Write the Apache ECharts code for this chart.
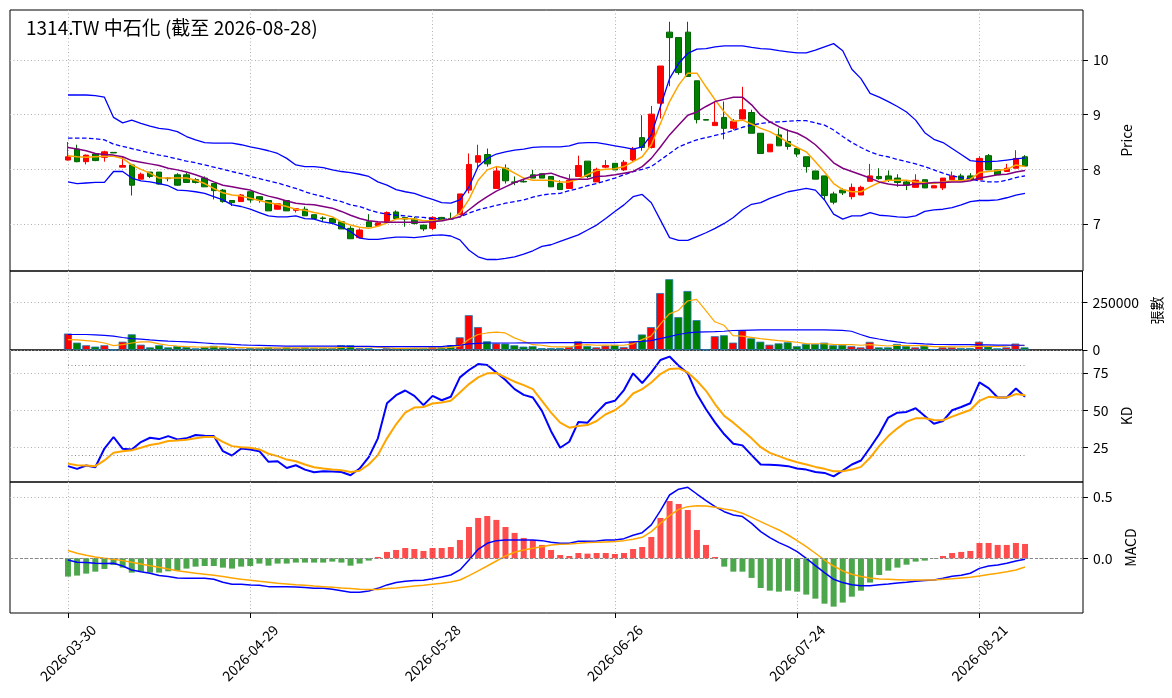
<!DOCTYPE html>
<html>
<head>
<meta charset="utf-8">
<title>1314.TW 中石化</title>
<script src="https://cdn.jsdelivr.net/npm/echarts@6/dist/echarts.min.js"></script>
<style>
  html, body { margin: 0; padding: 0; background: #fff; }
  #chart { width: 1172px; height: 698px; }
</style>
</head>
<body>
<div id="chart"></div>
<script>
// trading days: weekdays 2026-03-30 .. 2026-08-28 minus TWSE holidays
var firstDay = '2026-03-30';
var lastDay = '2026-08-28';
var holidays = ['2026-04-03', '2026-04-06', '2026-05-01', '2026-06-19'];

// candles
var opens = [8.17,8.37,8.14,8.28,8.22,8.31,8.04,8.08,7.82,7.95, 7.95,7.84,7.90,7.90,7.81,7.84,7.74,7.62,7.43,7.41,
  7.59,7.50,7.43,7.27,7.43,7.25,7.27,7.17,7.11,7.10, 7.04,6.92,6.75,7.04,6.97,7.04,7.22,7.12,7.09,6.98,
  6.92,7.12,7.10,7.17,7.62,8.13,8.27,7.65,8.02,7.77, 7.78,7.90,7.92,7.87,7.74,7.65,7.87,8.15,7.77,8.04,
  8.11,7.99,8.17,8.58,8.40,9.21,10.51,10.41,10.51,9.62, 8.91,8.80,8.95,8.75,8.92,9.04,8.66,8.32,8.63,8.51,
  8.38,8.23,7.97,7.88,7.55,7.62,7.50,7.53,7.78,7.87, 7.88,7.84,7.77,7.67,7.81,7.66,7.66,7.81,7.88,7.88,
  7.81,8.25,7.99,7.96,8.02,8.23];
var closes = [8.23,8.14,8.26,8.16,8.32,8.30,8.07,7.71,7.91,7.87, 7.73,7.83,7.71,7.76,7.76,7.68,7.61,7.41,7.39,7.53,
  7.44,7.44,7.24,7.37,7.24,7.28,7.15,7.10,7.10,7.02, 6.91,6.73,6.89,6.95,7.02,7.21,7.10,7.09,7.01,6.91,
  7.12,7.06,7.09,7.55,8.09,8.25,8.10,7.97,7.79,7.76, 7.77,7.84,7.84,7.68,7.63,7.80,8.07,7.87,8.00,8.07,
  7.99,8.13,8.37,8.40,9.01,9.89,10.41,9.77,9.70,8.91, 8.90,8.86,8.75,8.88,9.09,8.66,8.29,8.46,8.43,8.42,
  8.28,8.05,7.82,7.52,7.40,7.57,7.67,7.67,7.88,7.83, 7.80,7.76,7.71,7.80,7.66,7.70,7.84,7.88,7.81,7.81,
  8.20,7.99,7.90,8.02,8.20,8.06];
var lows = [8.16,8.13,8.09,8.15,8.14,8.30,8.04,7.52,7.82,7.84, 7.72,7.78,7.70,7.75,7.74,7.68,7.45,7.39,7.33,7.41,
  7.39,7.39,7.24,7.27,7.24,7.21,7.15,7.10,7.04,7.02, 6.91,6.73,6.75,6.95,6.97,7.04,7.08,6.95,6.99,6.87,
  6.89,7.06,7.08,7.17,7.56,8.02,8.05,7.65,7.74,7.71, 7.76,7.84,7.84,7.68,7.63,7.65,7.87,7.84,7.77,8.02,
  7.99,7.97,8.14,8.34,8.38,8.93,9.52,9.73,9.70,8.84, 8.90,8.80,8.55,8.72,8.90,8.66,8.29,8.32,8.43,8.36,
  8.23,7.94,7.82,7.44,7.36,7.53,7.45,7.53,7.78,7.81, 7.77,7.68,7.62,7.67,7.66,7.66,7.62,7.81,7.80,7.80,
  7.81,7.99,7.90,7.96,8.02,8.06];
var highs = [8.50,8.45,8.27,8.30,8.34,8.31,8.23,8.08,7.94,7.95, 7.95,7.86,7.93,7.94,7.84,7.87,7.74,7.64,7.43,7.55,
  7.59,7.50,7.43,7.37,7.43,7.28,7.32,7.17,7.14,7.10, 7.04,6.96,6.92,7.18,7.02,7.23,7.25,7.12,7.13,6.98,
  7.14,7.13,7.21,7.55,8.29,8.45,8.38,8.05,8.09,7.87, 7.82,7.99,7.92,7.87,7.80,7.91,8.25,8.15,8.03,8.17,
  8.11,8.17,8.41,8.99,9.16,9.89,10.70,10.42,10.70,9.62, 8.91,9.24,9.24,8.92,9.51,9.09,8.66,8.46,8.75,8.73,
  8.38,8.23,7.97,7.88,7.59,7.65,7.74,7.70,8.10,8.02, 7.98,7.91,7.79,7.91,7.81,7.70,7.84,7.96,7.92,7.93,
  8.24,8.28,7.99,8.10,8.35,8.26];

// price overlays
var ma5 = [8.25,8.23,8.22,8.23,8.24,8.24,8.20,8.08,8.00,7.93, 7.84,7.84,7.84,7.84,7.80,7.74,7.65,7.57,7.53,7.51,
  7.47,7.43,7.39,7.36,7.32,7.27,7.25,7.21,7.18,7.13, 7.04,6.98,6.94,6.92,6.96,7.02,7.09,7.10,7.09,7.06,
  7.06,7.07,7.09,7.20,7.45,7.80,7.99,8.05,8.02,7.93, 7.84,7.80,7.80,7.80,7.77,7.77,7.82,7.90,7.98,8.00,
  8.01,8.05,8.14,8.23,8.45,8.84,9.24,9.54,9.76,9.76, 9.51,9.27,9.05,8.88,8.90,8.83,8.75,8.69,8.60,8.49,
  8.40,8.32,8.14,7.95,7.74,7.63,7.59,7.59,7.68,7.76, 7.80,7.80,7.80,7.77,7.76,7.74,7.77,7.79,7.79,7.82,
  7.94,7.96,7.98,8.00,8.08,8.05];
var ma10 = [8.40,8.37,8.34,8.29,8.27,8.26,8.23,8.16,8.13,8.10, 8.07,8.02,7.99,7.95,7.90,7.84,7.77,7.71,7.68,7.65,
  7.62,7.56,7.51,7.47,7.42,7.38,7.36,7.35,7.32,7.29, 7.23,7.16,7.10,7.06,7.04,7.03,7.03,7.03,7.03,7.03,
  7.04,7.06,7.09,7.13,7.26,7.39,7.50,7.60,7.68,7.76, 7.82,7.88,7.91,7.93,7.87,7.82,7.82,7.82,7.87,7.88,
  7.90,7.93,7.96,8.05,8.20,8.41,8.63,8.81,8.99,9.05, 9.15,9.24,9.28,9.32,9.32,9.18,8.99,8.87,8.78,8.71,
  8.66,8.57,8.45,8.29,8.12,8.02,7.96,7.90,7.84,7.77, 7.73,7.71,7.71,7.73,7.74,7.76,7.76,7.77,7.77,7.79,
  7.84,7.87,7.90,7.91,7.95,7.98];
var bbUpper = [9.36,9.36,9.36,9.35,9.32,8.95,8.85,8.90,8.84,8.79, 8.75,8.73,8.69,8.60,8.54,8.49,8.48,8.48,8.48,8.45,
  8.41,8.38,8.34,8.29,8.20,8.08,8.05,8.05,8.03,7.99, 7.96,7.94,7.91,7.87,7.77,7.71,7.63,7.59,7.56,7.50,
  7.45,7.39,7.38,7.44,7.68,8.05,8.20,8.28,8.32,8.35, 8.37,8.40,8.41,8.41,8.41,8.43,8.48,8.49,8.49,8.46,
  8.43,8.40,8.37,8.41,8.63,9.15,9.66,9.94,10.12,10.20, 10.21,10.24,10.26,10.26,10.26,10.23,10.21,10.20,10.17,10.15,
  10.13,10.13,10.18,10.24,10.30,10.17,9.83,9.66,9.39,9.32, 9.24,9.15,9.05,8.90,8.67,8.55,8.49,8.38,8.27,8.16,
  8.14,8.14,8.15,8.17,8.19,8.21];
var bbMid = [8.57,8.57,8.57,8.56,8.54,8.46,8.42,8.38,8.34,8.30, 8.26,8.23,8.19,8.15,8.12,8.08,8.04,8.00,7.96,7.92,
  7.87,7.83,7.79,7.75,7.70,7.65,7.59,7.54,7.50,7.45, 7.41,7.35,7.32,7.26,7.21,7.18,7.16,7.15,7.13,7.12,
  7.10,7.09,7.09,7.13,7.20,7.26,7.30,7.34,7.38,7.41, 7.44,7.49,7.53,7.55,7.56,7.61,7.65,7.70,7.74,7.79,
  7.84,7.90,7.96,8.00,8.05,8.17,8.29,8.41,8.48,8.54, 8.58,8.62,8.66,8.71,8.77,8.81,8.84,8.86,8.87,8.88,
  8.89,8.89,8.85,8.81,8.72,8.60,8.49,8.40,8.32,8.26, 8.23,8.18,8.14,8.10,8.05,7.99,7.93,7.88,7.85,7.82,
  7.79,7.77,7.77,7.80,7.85,7.88];
var bbLower = [7.77,7.74,7.75,7.76,7.76,7.96,7.96,7.84,7.79,7.77, 7.74,7.70,7.62,7.61,7.59,7.56,7.50,7.44,7.35,7.32,
  7.27,7.21,7.15,7.13,7.13,7.15,7.10,7.09,7.04,7.01, 6.95,6.86,6.74,6.72,6.72,6.74,6.76,6.76,6.75,6.77,
  6.79,6.80,6.78,6.71,6.52,6.40,6.35,6.35,6.37,6.40, 6.45,6.51,6.59,6.62,6.68,6.74,6.80,6.89,6.98,7.10,
  7.23,7.35,7.50,7.54,7.39,7.07,6.75,6.70,6.70,6.77, 6.84,6.92,7.01,7.12,7.26,7.36,7.39,7.47,7.53,7.59,
  7.62,7.65,7.62,7.44,7.18,7.09,7.15,7.15,7.21,7.16, 7.15,7.13,7.12,7.15,7.23,7.26,7.27,7.30,7.35,7.41,
  7.43,7.43,7.44,7.48,7.53,7.56];

// volume (張)
var volumes = [87000,39000,25000,18000,25000,1500,44000,83000,28000,14000, 25000,14000,20000,16000,9000,16000,22000,14000,9000,7000,
  10000,10000,14000,9000,14000,10000,14000,10000,10000,10000, 25000,25000,10000,10000,5000,10000,10000,10000,9000,10000,
  14000,14000,23000,67000,184000,121000,46000,35000,34000,25000, 18000,20000,10000,10000,10000,16000,46000,21000,14000,23000,
  27000,16000,46000,82000,121000,301000,374000,174000,312000,158000, 2000,73000,78000,39000,103000,62000,44000,28000,35000,41000,
  20000,32000,32000,39000,25000,27000,20000,14000,43000,14000, 14000,32000,21000,14000,23000,5000,14000,14000,10000,10000,
  44000,18000,9000,14000,34000,14000];
var volMa5 = [55000,54000,50000,46000,37000,23000,28000,37000,43000,43000, 32000,25000,21000,18000,16000,15000,17000,16000,14000,13000,
  12000,11000,11000,11000,12000,11000,12000,11000,11000,11000, 14000,16000,16000,16000,15000,12000,9000,9000,10000,10000,
  11000,11000,14000,20000,55000,82000,90000,94000,90000,64000, 46000,28000,25000,18000,16000,16000,25000,28000,25000,26000,
  25000,25000,32000,55000,73000,135000,191000,209000,259000,268000, 209000,149000,131000,76000,73000,67000,60000,55000,50000,46000,
  41000,34000,33000,33000,30000,28000,28000,25000,28000,25000, 21000,25000,23000,23000,23000,18000,18000,16000,16000,18000,
  21000,19000,19000,21000,25000,23000];
var volMa20 = [82000,82000,82000,80000,77000,73000,66000,60000,57000,53000, 50000,47000,45000,43000,40000,37000,34000,32000,30000,27000,
  25000,24000,23000,22000,21000,21000,20000,20000,20000,20000, 20000,19000,19000,19000,18000,18000,18000,18000,18000,18000,
  18000,18000,23000,25000,32000,35000,37000,37000,37000,37000, 38000,38000,38000,39000,39000,39000,39000,39000,39000,39000,
  39000,41000,43000,46000,50000,60000,71000,82000,90000,94000, 96000,97000,99000,103000,104000,105000,106000,106000,106000,106000,
  106000,106000,106000,106000,105000,104000,99000,82000,67000,58000, 50000,43000,37000,35000,32000,30000,29000,28000,28000,28000,
  27000,27000,26000,26000,25000,25000];

// KD
var kLine = [12.6,10.8,13.0,11.9,24.4,32.1,24.2,23.8,28.7,31.6, 30.7,32.7,30.5,31.2,33.4,33.0,32.7,22.6,19.7,24.4,
  23.8,22.6,15.5,15.9,11.4,13.2,10.3,8.5,9.2,9.0, 8.7,6.5,11.0,18.6,31.2,54.7,60.1,63.2,59.6,53.4,
  59.6,56.7,59.0,72.0,76.9,80.9,80.3,75.3,70.2,64.1, 60.3,58.5,49.6,36.0,24.9,28.9,42.2,41.7,48.4,54.7,
  56.3,63.5,74.7,68.2,75.3,83.6,85.9,79.8,74.7,60.8, 50.7,41.7,33.9,27.6,26.5,20.0,13.7,13.5,13.2,12.6,
  11.0,10.3,8.7,8.1,5.8,9.6,13.7,16.4,24.9,33.9, 45.1,48.4,48.9,51.3,46.2,41.0,42.8,50.0,52.2,54.7,
  68.6,64.8,58.5,58.5,64.6,59.0];
var dLine = [14.3,13.2,13.0,12.6,16.4,21.5,22.6,23.3,24.9,26.7, 27.8,29.4,29.8,30.3,31.2,32.1,32.1,28.9,26.0,25.3,
  24.9,23.8,20.9,19.3,17.0,15.9,13.7,11.9,11.0,10.3, 9.9,8.7,9.6,13.7,20.0,31.2,40.6,48.4,51.8,52.2,
  54.5,55.2,56.3,61.9,67.5,72.0,74.7,74.9,72.0,69.1, 66.8,64.1,56.3,48.4,41.7,38.3,39.5,40.1,42.8,47.3,
  50.0,54.5,61.2,64.1,68.6,74.2,77.6,78.0,75.3,69.7, 63.0,54.0,46.2,41.7,36.5,31.2,25.3,21.5,19.3,17.0,
  15.2,13.7,12.1,10.8,9.2,9.2,10.3,12.1,18.2,26.0, 32.7,37.9,42.4,44.6,44.6,43.5,43.3,45.7,48.0,50.2,
  56.3,59.0,58.5,58.5,60.8,60.1];

// MACD
var macdHist = [-0.149,-0.141,-0.125,-0.109,-0.087,-0.054,-0.076,-0.117,-0.109,-0.117, -0.117,-0.106,-0.101,-0.084,-0.068,-0.063,-0.063,-0.076,-0.084,-0.068,
  -0.063,-0.043,-0.060,-0.043,-0.043,-0.035,-0.035,-0.035,-0.035,-0.027, -0.035,-0.060,-0.043,-0.019,0.011,0.052,0.068,0.084,0.076,0.060,
  0.084,0.084,0.092,0.149,0.255,0.329,0.345,0.313,0.255,0.207, 0.166,0.149,0.109,0.068,0.027,0.019,0.043,0.038,0.043,0.043,
  0.035,0.043,0.076,0.092,0.174,0.329,0.467,0.443,0.394,0.231, 0.109,0.011,-0.068,-0.109,-0.109,-0.160,-0.242,-0.264,-0.272,-0.264,
  -0.272,-0.296,-0.329,-0.370,-0.394,-0.361,-0.313,-0.264,-0.198,-0.136, -0.101,-0.076,-0.052,-0.027,-0.019,-0.003,0.019,0.043,0.052,0.060,
  0.125,0.125,0.109,0.109,0.125,0.117];
var macdDif = [-0.014,-0.033,-0.035,-0.041,-0.043,-0.041,-0.063,-0.095,-0.109,-0.122, -0.141,-0.149,-0.160,-0.163,-0.163,-0.163,-0.171,-0.196,-0.212,-0.212,
  -0.217,-0.220,-0.231,-0.231,-0.231,-0.234,-0.239,-0.245,-0.245,-0.253, -0.264,-0.277,-0.277,-0.266,-0.245,-0.217,-0.198,-0.188,-0.182,-0.179,
  -0.166,-0.152,-0.136,-0.095,-0.014,0.073,0.122,0.144,0.149,0.149, 0.149,0.149,0.144,0.130,0.122,0.122,0.139,0.139,0.141,0.149,
  0.149,0.160,0.188,0.209,0.272,0.389,0.516,0.563,0.579,0.524, 0.470,0.421,0.380,0.353,0.340,0.285,0.217,0.168,0.128,0.095,
  0.054,0.000,-0.060,-0.117,-0.171,-0.198,-0.215,-0.223,-0.223,-0.215, -0.209,-0.201,-0.196,-0.188,-0.182,-0.177,-0.163,-0.147,-0.139,-0.122,
  -0.082,-0.063,-0.054,-0.041,-0.022,-0.008];
var macdDea = [0.063,0.041,0.024,0.011,0.000,-0.008,-0.019,-0.033,-0.046,-0.060, -0.073,-0.087,-0.101,-0.111,-0.122,-0.130,-0.139,-0.149,-0.160,-0.171,
  -0.179,-0.188,-0.196,-0.204,-0.209,-0.215,-0.220,-0.226,-0.231,-0.236, -0.242,-0.247,-0.253,-0.255,-0.255,-0.247,-0.242,-0.234,-0.226,-0.220,
  -0.212,-0.204,-0.193,-0.177,-0.141,-0.103,-0.063,-0.022,0.019,0.049, 0.068,0.082,0.095,0.109,0.114,0.117,0.122,0.128,0.130,0.133,
  0.136,0.144,0.155,0.171,0.217,0.285,0.348,0.399,0.421,0.429, 0.427,0.416,0.402,0.389,0.367,0.334,0.299,0.264,0.231,0.190,
  0.144,0.095,0.041,-0.014,-0.063,-0.103,-0.130,-0.149,-0.160,-0.168, -0.171,-0.174,-0.177,-0.177,-0.177,-0.177,-0.171,-0.166,-0.160,-0.155,
  -0.144,-0.133,-0.122,-0.109,-0.095,-0.071];

// ticks
var dateTickIdx = [0, 20, 40, 60, 80, 100];
var priceTicks = [7, 8, 9, 10];
var volTicks = [0, 250000];
var kdTicks = [25, 50, 75];
var macdTicks = [0, 0.5];

var FONT = "'Noto Sans CJK TC', 'Noto Sans', sans-serif";

function buildDates() {
  var out = [];
  var d = new Date(firstDay + 'T00:00:00Z');
  var end = new Date(lastDay + 'T00:00:00Z');
  while (d <= end) {
    var s = d.toISOString().slice(0, 10);
    var wd = d.getUTCDay();
    if (wd !== 0 && wd !== 6 && holidays.indexOf(s) < 0) out.push(s);
    d.setUTCDate(d.getUTCDate() + 1);
  }
  return out;
}
var dates = buildDates();

function pts(arr) {
  return arr.map(function (v, i) { return [i, v]; });
}

var gridLine = { color: '#b0b0b0', width: 1, type: [1, 2.5] };

function xAxisFor(idx, bottom) {
  return {
    type: 'value', gridIndex: idx,
    min: -6.36, max: 111.36, minInterval: 20, maxInterval: 20,
    axisLine: { show: false, onZero: false },
    axisTick: { show: bottom, length: 5, customValues: dateTickIdx, lineStyle: { color: '#000' } },
    axisLabel: {
      show: bottom, customValues: dateTickIdx, rotate: 45,
      align: 'center', verticalAlign: 'middle', margin: 40,
      fontSize: 14, color: '#000', fontFamily: FONT,
      formatter: function (v) { return dates[Math.round(v)] || ''; }
    },
    splitLine: { show: true, lineStyle: gridLine }
  };
}

function yAxisFor(idx, o) {
  return {
    type: 'value', gridIndex: idx, position: 'right',
    min: o.min, max: o.max, minInterval: o.step, maxInterval: o.step,
    axisLine: { show: false, onZero: false },
    axisTick: { show: true, length: 5, customValues: o.ticks, lineStyle: { color: '#000' } },
    axisLabel: {
      customValues: o.ticks, margin: 10, fontSize: 14, color: '#000', fontFamily: FONT,
      showMinLabel: true, showMaxLabel: true,
      formatter: o.fmt
    },
    splitLine: { show: true, lineStyle: gridLine },
    name: o.name, nameLocation: 'middle', nameRotate: 90, nameGap: o.gap,
    nameTextStyle: { fontSize: 14, color: '#000', fontFamily: FONT }
  };
}

function lineSeries(idx, arr, color, width, dashed) {
  return {
    type: 'line', xAxisIndex: idx, yAxisIndex: idx, data: pts(arr),
    showSymbol: false, symbol: 'none', z: 3,
    lineStyle: { color: color, width: width, type: dashed ? [4.5, 2.5] : 'solid' },
    emphasis: { disabled: true }
  };
}

var candleData = opens.map(function (o, i) { return [i, o, closes[i], lows[i], highs[i]]; });
var volData = volumes.map(function (v, i) {
  var up = closes[i] >= opens[i];
  return { value: [i, v], itemStyle: { color: up ? '#ff0000' : '#008000' } };
});
var histData = macdHist.map(function (v, i) {
  return { value: [i, v], itemStyle: { color: v >= 0 ? 'rgba(255,0,0,0.7)' : 'rgba(0,128,0,0.7)' } };
});

var chart = echarts.init(document.getElementById('chart'), null, { renderer: 'canvas' });

chart.setOption({
  animation: false,
  backgroundColor: '#fff',
  textStyle: { fontFamily: FONT },
  title: {
    text: '1314.TW 中石化 (截至 2026-08-28)',
    left: 26, top: 18, padding: 0,
    textStyle: { fontSize: 19, fontWeight: 'normal', color: '#000', fontFamily: FONT }
  },
  grid: [
    { left: 10, right: 89, top: 10, height: 261, show: true, borderColor: '#000', borderWidth: 1 },
    { left: 10, right: 89, top: 271, height: 79, show: true, borderColor: '#000', borderWidth: 1 },
    { left: 10, right: 89, top: 350, height: 132, show: true, borderColor: '#000', borderWidth: 1 },
    { left: 10, right: 89, top: 482, height: 131, show: true, borderColor: '#000', borderWidth: 1 }
  ],
  xAxis: [xAxisFor(0, false), xAxisFor(1, false), xAxisFor(2, false), xAxisFor(3, true)],
  yAxis: [
    yAxisFor(0, { min: 6.14, max: 10.915, step: 1, ticks: priceTicks, name: 'Price', gap: 25,
      fmt: function (v) { return String(v); } }),
    yAxisFor(1, { min: 0, max: 417500, step: 250000, ticks: volTicks, name: '張數', gap: 58,
      fmt: function (v) { return String(v); } }),
    yAxisFor(2, { min: 2, max: 90.3, step: 25, ticks: kdTicks, name: 'KD', gap: 23,
      fmt: function (v) { return String(v); } }),
    yAxisFor(3, { min: -0.446, max: 0.622, step: 0.5, ticks: macdTicks, name: 'MACD', gap: 28,
      fmt: function (v) { return v.toFixed(1); } })
  ],
  series: [
    {
      type: 'candlestick', xAxisIndex: 0, yAxisIndex: 0, data: candleData,
      encode: { x: 0, y: [1, 2, 3, 4] }, barWidth: 6, z: 2,
      itemStyle: { color: '#ff0000', color0: '#008000', borderColor: '#ff0000', borderColor0: '#006400', borderWidth: 1 }
    },
    lineSeries(0, bbUpper, '#0000ff', 1.3),
    lineSeries(0, bbMid, '#0000ff', 1.3, true),
    lineSeries(0, bbLower, '#0000ff', 1.3),
    lineSeries(0, ma5, '#ffa500', 1.5),
    lineSeries(0, ma10, '#800080', 1.5),
    {
      type: 'bar', xAxisIndex: 1, yAxisIndex: 1, data: volData, barWidth: 8,
      itemStyle: { borderColor: '#1f77b4', borderWidth: 0.8 }
    },
    lineSeries(1, volMa5, '#ffa500', 1.2),
    lineSeries(1, volMa20, '#0000ff', 1.2),
    Object.assign(lineSeries(2, kLine, '#0000ff', 2), {
      markLine: {
        silent: true, symbol: 'none', label: { show: false },
        lineStyle: { color: '#888', width: 1, type: [1, 2.5] },
        data: [
          [{ coord: [0, 80] }, { coord: [105, 80] }],
          [{ coord: [0, 20] }, { coord: [105, 20] }]
        ]
      }
    }),
    lineSeries(2, dLine, '#ffa500', 2),
    {
      type: 'bar', xAxisIndex: 3, yAxisIndex: 3, data: histData, barWidth: 6,
      markLine: {
        silent: true, symbol: 'none', label: { show: false },
        lineStyle: { color: '#888', width: 1, type: [3, 2] },
        data: [[{ coord: [-6.36, 0] }, { coord: [111.36, 0] }]]
      }
    },
    lineSeries(3, macdDif, '#0000ff', 1.5),
    lineSeries(3, macdDea, '#ffa500', 1.5)
  ]
});
</script>
</body>
</html>
